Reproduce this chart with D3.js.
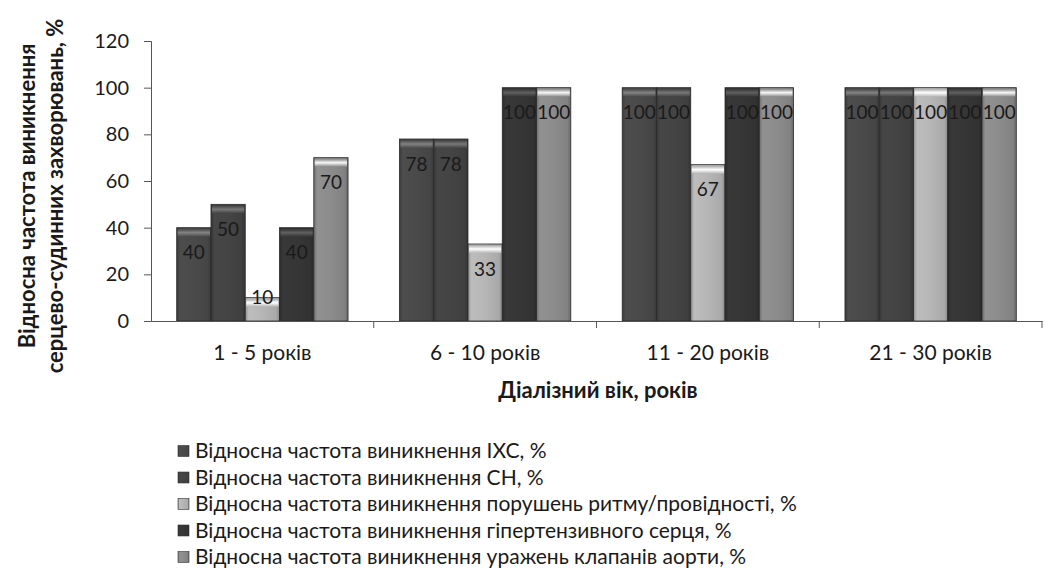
<!DOCTYPE html>
<html><head><meta charset="utf-8">
<script src="https://cdn.jsdelivr.net/npm/d3@7"></script>
<style>body{margin:0;background:#fff}svg{display:block}text{font-family:Lato,"Open Sans",sans-serif;fill:#1a1a1a}</style>
</head><body><svg id="c" width="1046" height="571"></svg>
<script>
const categories = ["1 - 5 років","6 - 10 років","11 - 20 років","21 - 30 років"];
const seriesNames = [
 "Відносна частота виникнення ІХС, %",
 "Відносна частота виникнення СН, %",
 "Відносна частота виникнення порушень ритму/провідності, %",
 "Відносна частота виникнення гіпертензивного серця, %",
 "Відносна частота виникнення  уражень клапанів аорти, %"];
const ihs = [40,78,100,100];
const sn = [50,78,100,100];
const rhythm = [10,33,67,100];
const hypert = [40,100,100,100];
const aortic = [70,100,100,100];
const yTicks = [0,20,40,60,80,100,120];
const seriesValues = [ihs, sn, rhythm, hypert, aortic];
const colors = ["#4a4a4a","#444444","#b6b6b6","#363636","#8c8c8c"];

const svg = d3.select("#c");
const m = {l:151, r:1042, t:41, b:321};
const x = d3.scaleBand().domain(categories).range([m.l, m.r]).paddingInner(0).paddingOuter(0);
const xi = d3.scaleBand().domain(d3.range(5)).range([0, x.bandwidth()]).paddingOuter(0.75).paddingInner(0);
const y = d3.scaleLinear().domain([0,120]).range([m.b, m.t]);

const defs = svg.append("defs");
colors.forEach((c,i)=>{
  const g = defs.append("linearGradient").attr("id","g"+i).attr("x1","0").attr("x2","1").attr("y1","0").attr("y2","0");
  const cc = d3.color(c);
  g.append("stop").attr("offset","0").attr("stop-color",cc.darker(0.7));
  g.append("stop").attr("offset","0.1").attr("stop-color",cc.brighter(0.1));
  g.append("stop").attr("offset","0.5").attr("stop-color",cc);
  g.append("stop").attr("offset","0.9").attr("stop-color",cc.darker(0.2));
  g.append("stop").attr("offset","1").attr("stop-color",cc.darker(0.8));
  const t = defs.append("linearGradient").attr("id","t"+i).attr("x1","0").attr("x2","0").attr("y1","0").attr("y2","1");
  t.append("stop").attr("offset","0").attr("stop-color",cc.darker(0.3));
  t.append("stop").attr("offset","0.5").attr("stop-color",cc.brighter(1.6));
  t.append("stop").attr("offset","1").attr("stop-color",cc);
});

// y axis
const yAxis = svg.append("g").attr("transform",`translate(${m.l},0)`)
  .call(d3.axisLeft(y).tickValues(yTicks).tickSize(7).tickPadding(15));
yAxis.select(".domain").attr("stroke","#555");
yAxis.selectAll(".tick line").attr("stroke","#555");
yAxis.selectAll("text").style("font-size","20px").attr("fill","#1a1a1a");

// bars
categories.forEach((cat,ci)=>{
  const g = svg.append("g").attr("transform",`translate(${x(cat)},0)`);
  seriesValues.forEach((vals,si)=>{
    const v = vals[ci];
    const bx = xi(si), bw = xi.bandwidth(), by = y(v), bh = y(0)-y(v);
    g.append("rect").attr("x",bx).attr("y",by).attr("width",bw).attr("height",bh)
      .attr("fill",`url(#g${si})`).attr("stroke","#2a2a2a").attr("stroke-width",0.8);
    g.append("rect").attr("x",bx+1).attr("y",by+1).attr("width",bw-2).attr("height",Math.min(8,bh-1))
      .attr("fill",`url(#t${si})`);
  });
  seriesValues.forEach((vals,si)=>{
    const v = vals[ci];
    const ly = Math.min(y(v)+25, y(0)-24);
    g.append("text").attr("x",xi(si)+xi.bandwidth()/2).attr("y",ly).attr("dy","0.35em")
      .attr("text-anchor","middle").style("font-size","19px").text(v);
  });
});

// x axis
const xAxis = svg.append("g").attr("transform",`translate(0,${m.b})`)
  .call(d3.axisBottom(x).tickSize(0).tickFormat(""));
xAxis.select(".domain").attr("stroke","#555");
svg.append("g").selectAll("text").data(categories).join("text")
  .attr("x",d=>x(d)+x.bandwidth()/2).attr("y",360).attr("text-anchor","middle")
  .style("font-size","21px").text(d=>d);
svg.append("g").selectAll("line").data(categories).join("line")
  .attr("x1",d=>x(d)+x.bandwidth()).attr("x2",d=>x(d)+x.bandwidth())
  .attr("y1",m.b).attr("y2",m.b+7).attr("stroke","#555");

// titles
svg.append("text").attr("x",598).attr("y",398).attr("text-anchor","middle")
  .style("font-size","22px").style("font-weight","bold").text("Діалізний вік, років");
const yt = svg.append("text").attr("transform","translate(35,196) rotate(-90)").attr("text-anchor","middle")
  .style("font-size","22px").style("font-weight","bold");
yt.append("tspan").attr("x",0).attr("y",0).text("Відносна частота виникнення");
yt.append("tspan").attr("x",0).attr("y",28).text("серцево-судинних захворювань, %");

// legend
const lg = svg.append("g");
seriesNames.forEach((n,i)=>{
  const ly = 451 + i*26.5;
  lg.append("rect").attr("x",178).attr("y",ly-5.5).attr("width",11).attr("height",11)
    .attr("fill",`url(#g${i})`).attr("stroke","#333").attr("stroke-width",0.6);
  lg.append("text").attr("x",195).attr("y",ly).attr("dy","0.35em").style("font-size","21px").text(n);
});
</script></body></html>
